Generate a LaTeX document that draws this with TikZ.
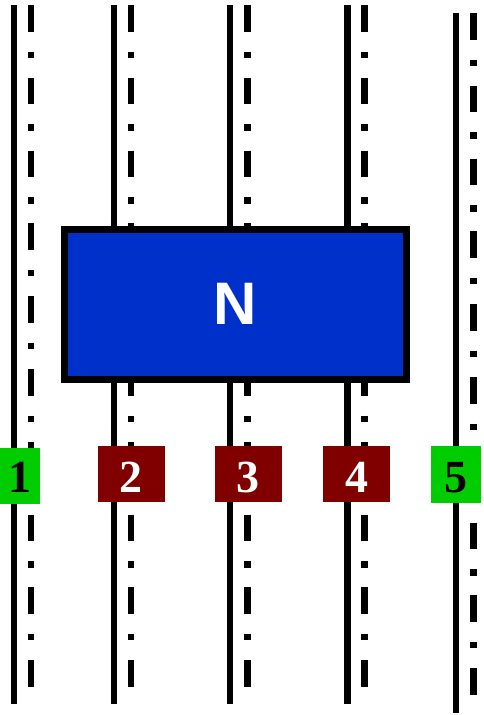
\documentclass[tikz,border=0pt]{standalone}
\usepackage{fontspec}
\setmainfont{Liberation Serif}
\setsansfont{Liberation Sans}
\definecolor{nblue}{HTML}{0030CA}
\definecolor{labgreen}{HTML}{00CC00}
\definecolor{labred}{HTML}{800000}
\begin{document}
\begin{tikzpicture}[x=1pt,y=-1pt,
  solidline/.style={line width=6.3pt},
  dashline/.style={line width=6.5pt, dash pattern=on 26.5pt off 20pt on 6.5pt off 19.8pt},
  nbox/.style={draw=black, fill=nblue, line width=7pt, minimum width=341.5pt, minimum height=150pt,
    inner sep=0pt, text=white, font=\sffamily\bfseries\fontsize{60}{60}\selectfont},
  lab/.style={inner sep=0pt, minimum height=56.6pt, text height=37pt, text depth=0pt,
    font=\rmfamily\bfseries\fontsize{46}{46}\selectfont},
  greenlab/.style={lab, fill=labgreen, text=black},
  redlab/.style={lab, fill=labred, text=white, minimum width=67.3pt}
]
\useasboundingbox (0,0) rectangle (484,715);
\foreach \s/\d/\a/\b in {13.8/31/5/704, 114.2/131/5/704, 230.3/247.5/5/704, 347.5/364.3/5/704, 455.7/473.3/13/713} {
  \draw[solidline] (\s,\a) -- (\s,\b);
  \draw[dashline] (\d,\a) -- (\d,\b);
}
\node[nbox] (N) at (235.25,304.3) {N};
\node[greenlab, minimum width=40pt, text height=33pt] (l1) at (20,476) {1};
\node[redlab] (l2) at (131.3,474) {2};
\node[redlab] (l3) at (248.3,474) {3};
\node[redlab] (l4) at (356.5,474) {4};
\node[greenlab, minimum width=50pt] (l5) at (456,474.3) {5};
\end{tikzpicture}
\end{document}
